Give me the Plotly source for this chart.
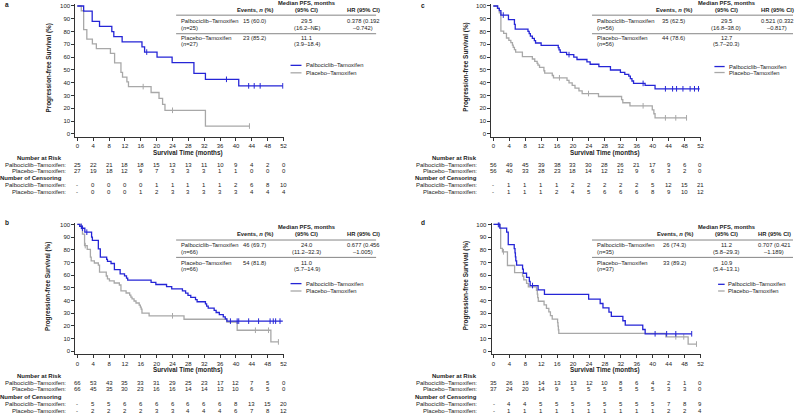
import plotly.graph_objects as go

W, H = 799, 414
BLUE = "#2525d6"
GREY = "#a8a8a8"
INK = "#222222"
FONT = "Liberation Sans, Arial, Helvetica, sans-serif"

months = list(range(0, 53, 4))
arm_names = ["Palbociclib–Tamoxifen", "Placebo–Tamoxifen"]

# ---------- panel a ----------
a_pal_time = [1.6, 3.75, 5.6, 8.7, 9.2, 11.3, 16.3, 16.96, 20.1, 23.9, 29.4, 32.3, 40.7]
a_pal_surv = [96, 88, 84, 80, 76, 72, 68, 64, 60, 55.8, 47.4, 42.7, 37.6]
a_pal_cens = [17.5, 37.6, 43.2, 44.6, 46.1, 51.8]
a_pal_end = 51.8
a_pla_time = [1.0, 1.6, 2.4, 3.8, 4.8, 8.35, 9.4, 11.0, 11.4, 12.5, 12.9, 18.6, 20.6, 21.5, 22.1, 32.3]
a_pla_surv = [96.3, 81.5, 74.1, 70.4, 66.7, 63.0, 55.6, 48.1, 44.4, 40.7, 37.0, 32.4, 27.8, 23.1, 18.5, 6.2]
a_pla_cens = [16.6, 24.0, 43.4]
a_pla_end = 43.4
a_pal_risk = [25, 22, 21, 18, 18, 15, 13, 13, 11, 10, 9, 4, 2, 0]
a_pla_risk = [27, 19, 18, 12, 9, 7, 3, 3, 3, 1, 1, 0, 0, 0]
a_pal_ncens = ["-", 0, 0, 0, 0, 1, 1, 1, 1, 1, 2, 6, 8, 10]
a_pla_ncens = ["-", 0, 0, 0, 1, 2, 3, 3, 3, 3, 3, 4, 4, 4]
a_n = [25, 27]
a_events = ["15 (60.0)", "23 (85.2)"]
a_median = [["29.5", "(16.2–NE)"], ["11.1", "(3.9–18.4)"]]
a_hr = ["0.378 (0.192", "–0.742)"]

# ---------- panel b ----------
b_pal_time = [0.6, 1.1, 1.9, 3.6, 3.8, 5.3, 5.8, 7.4, 7.6, 8.5, 9.35, 10.8, 11.9, 12.4, 12.7, 18.6, 19.8,
              22.5, 23.8, 26.5, 27.3, 27.9, 28.6, 29.8, 30.2, 32.3, 32.6, 33.0, 34.5, 35.0, 35.8, 36.8, 37.3, 37.7]
b_pal_surv = [98.5, 97.0, 93.9, 90.0, 87.4, 80.8, 74.2, 72.5, 70.9, 69.2, 64.3, 61.0, 59.4, 57.7, 56.0, 54.3, 52.6,
              50.9, 49.2, 47.5, 45.8, 44.1, 42.4, 40.7, 39.0, 37.3, 35.6, 33.9, 32.2, 30.5, 28.8, 27.1, 25.4, 23.7]
b_pal_cens = [1.0, 1.3, 2.4, 38.6, 40.3, 40.7, 43.2, 45.7, 48.6, 49.4, 50.0, 51.1]
b_pal_end = 51.8
b_pla_time = [0.8, 1.3, 1.83, 2.5, 3.3, 3.5, 4.3, 5.3, 5.6, 7.3, 7.6, 8.1, 9.3, 10.6, 11.0, 12.3, 13.2, 13.5,
              13.8, 14.3, 14.8, 15.6, 15.9, 16.1, 16.3, 18.1, 26.9, 37.7, 40.3, 48.8]
b_pla_surv = [98.5, 92.4, 83.3, 80.3, 74.2, 71.2, 69.6, 67.9, 62.4, 59.3, 57.0, 55.4, 53.8, 52.2, 47.5, 45.9, 44.3, 42.7,
              41.2, 39.6, 38.0, 36.4, 34.8, 33.2, 30.0, 27.9, 25.2, 23.0, 16.5, 7.3]
b_pla_cens = [2.0, 24.0, 44.9, 48.2, 50.7]
b_pla_end = 50.7
b_pal_risk = [66, 53, 43, 35, 33, 31, 29, 25, 23, 17, 12, 7, 5, 0]
b_pla_risk = [66, 45, 35, 30, 23, 16, 16, 14, 14, 13, 10, 6, 5, 0]
b_pal_ncens = ["-", 5, 5, 6, 6, 6, 6, 6, 6, 6, 8, 13, 15, 20]
b_pla_ncens = ["-", 2, 2, 2, 2, 3, 3, 4, 4, 4, 6, 7, 8, 12]
b_n = [66, 66]
b_events = ["46 (69.7)", "54 (81.8)"]
b_median = [["24.0", "(11.2–32.3)"], ["11.0", "(5.7–14.9)"]]
b_hr = ["0.677 (0.456", "–1.005)"]

# ---------- panel c ----------
c_pal_time = [1.1, 1.5, 1.9, 3.8, 5.3, 5.5, 8.7, 9.0, 9.3, 9.8, 10.3, 10.6, 12.0, 16.3, 16.5, 16.8, 18.4, 20.2,
              21.0, 23.5, 24.3, 26.5, 29.4, 31.9, 33.0, 34.0, 34.4, 34.8, 35.2, 38.1, 40.6]
c_pal_surv = [98.2, 96.4, 92.9, 89.3, 85.6, 82.0, 80.2, 78.4, 76.5, 74.7, 72.9, 71.1, 69.3, 67.5, 65.7, 63.8, 62.0, 60.1,
              58.2, 56.4, 54.5, 52.6, 50.0, 48.1, 46.6, 45.2, 43.3, 41.4, 39.5, 37.9, 35.3]
c_pal_cens = [2.5, 19.0, 37.6, 43.2, 45.0, 46.0, 47.6, 49.4, 50.5, 51.5]
c_pal_end = 51.8
c_pla_time = [1.0, 1.5, 1.9, 2.6, 3.3, 3.9, 4.4, 4.8, 5.0, 5.3, 5.6, 7.3, 9.8, 10.4, 11.0, 11.2, 11.6, 12.7, 12.9,
              14.8, 15.1, 18.5, 19.0, 19.8, 20.5, 21.5, 22.3, 26.4, 32.2, 32.5, 34.3, 39.9, 40.3, 40.6]
c_pla_surv = [98.2, 94.6, 80.4, 78.6, 75.0, 73.2, 71.4, 69.5, 67.7, 65.9, 64.0, 60.4, 58.6, 56.7, 55.2, 53.8, 52.0, 49.4, 47.5,
              45.7, 43.9, 41.9, 39.9, 37.9, 35.8, 33.7, 31.6, 29.3, 26.9, 24.4, 22.0, 18.9, 15.8, 12.6]
c_pla_cens = [16.6, 23.9, 37.6, 43.2, 45.8, 48.5]
c_pla_end = 48.5
c_pal_risk = [56, 49, 45, 39, 38, 33, 30, 28, 26, 21, 17, 9, 6, 0]
c_pla_risk = [56, 40, 33, 28, 23, 18, 14, 12, 12, 9, 6, 3, 2, 0]
c_pal_ncens = ["-", 1, 1, 1, 1, 2, 2, 2, 2, 2, 5, 12, 15, 21]
c_pla_ncens = ["-", 1, 1, 1, 2, 4, 5, 6, 6, 6, 8, 9, 10, 12]
c_n = [56, 56]
c_events = ["35 (62.5)", "44 (78.6)"]
c_median = [["29.5", "(16.8–38.0)"], ["12.7", "(5.7–20.3)"]]
c_hr = ["0.521 (0.332", "–0.817)"]

# ---------- panel d ----------
d_pal_time = [1.6, 3.3, 3.7, 5.2, 5.4, 5.5, 5.6, 5.8, 7.3, 7.5, 8.3, 9.0, 9.2, 11.2, 12.8, 23.9, 26.8, 27.5, 29.0,
              29.6, 32.5, 33.1, 37.5, 38.1]
d_pal_surv = [97.1, 93.9, 84.1, 80.9, 77.6, 74.4, 71.2, 67.9, 64.7, 61.5, 58.3, 55.0, 51.8, 48.3, 44.8, 41.0, 37.6, 34.2, 30.8,
              27.4, 24.0, 20.5, 17.1, 13.7]
d_pal_cens = [1.2, 1.4, 9.8, 40.6, 43.5, 45.8, 49.8]
d_pal_end = 49.8
d_pla_time = [1.6, 1.8, 2.25, 3.5, 5.3, 7.3, 7.6, 8.3, 8.75, 10.8, 11.0, 11.1, 11.25, 12.7, 13.3, 13.9, 14.3, 14.75,
              16.1, 16.2, 16.3, 16.4, 43.3, 48.9]
d_pla_surv = [97.3, 81.1, 78.4, 67.6, 62.0, 59.2, 56.3, 53.5, 50.7, 47.9, 45.0, 42.2, 39.4, 36.6, 33.8, 31.0, 28.1, 25.3,
              22.5, 19.7, 16.9, 14.1, 11.3, 5.6]
d_pla_cens = [2.5, 45.8, 47.8, 51.0]
d_pla_end = 51.0
d_pal_risk = [35, 26, 19, 14, 13, 13, 12, 10, 8, 6, 4, 2, 1, 0]
d_pla_risk = [37, 24, 20, 14, 9, 5, 5, 5, 5, 5, 5, 3, 3, 0]
d_pal_ncens = ["-", 4, 4, 5, 5, 5, 5, 5, 5, 5, 5, 7, 8, 9]
d_pla_ncens = ["-", 1, 1, 1, 1, 1, 1, 1, 1, 1, 1, 2, 2, 4]
d_n = [35, 37]
d_events = ["26 (74.3)", "33 (89.2)"]
d_median = [["11.2", "(5.8–29.3)"], ["10.9", "(5.4–13.1)"]]
d_hr = ["0.707 (0.421", "–1.189)"]


def X(p):
    return p / W


def Y(p):
    return 1 - p / H


def steps(times, surv, end):
    return [0] + list(times) + [end], [100] + list(surv) + [surv[-1]]


def surv_at(times, surv, t):
    s = 100
    for ti, si in zip(times, surv):
        if ti <= t:
            s = si
    return s


top_rows = [157.3, 164.3, 170.7, 177.7, 184.3, 191.0]
bot_rows = [375.7, 382.5, 389.3, 397.3, 404.3, 411.0]
top_ins = [2.5, 9.3, 14.2, 20.3, 26.7, 32.8, 37.3, 43.6]
bot_ins = [226.7, 234.0, 239.6, 245.0, 251.7, 257.0, 262.3, 269.0]

panels = [
    dict(letter="a", sfx="", x0=77.7, x52=285.0, y100=5.0, y0=133.3, lt=(3, 4), yt=(49, 67), xt=(189, 152),
         lab_r=68.3, head_r=64, rows=top_rows, ins=top_ins, tx=[177, 378, 180, 256, 308.5, 365],
         leg=[292, 303, 306, 64.5, 72.0],
         pal=(a_pal_time, a_pal_surv, a_pal_cens, a_pal_end), pla=(a_pla_time, a_pla_surv, a_pla_cens, a_pla_end),
         risk=(a_pal_risk, a_pla_risk, a_pal_ncens, a_pla_ncens), n=a_n, ev=a_events, med=a_median, hr=a_hr),
    dict(letter="c", sfx="2", x0=495.8, x52=704.0, y100=5.0, y0=133.3, lt=(421, 5), yt=(468.3, 66), xt=(608, 152),
         lab_r=481.7, head_r=481.7, rows=top_rows, ins=top_ins, tx=[595, 797, 598, 677, 730, 781],
         leg=[718, 728.3, 730.5, 65.7, 71.7],
         pal=(c_pal_time, c_pal_surv, c_pal_cens, c_pal_end), pla=(c_pla_time, c_pla_surv, c_pla_cens, c_pla_end),
         risk=(c_pal_risk, c_pla_risk, c_pal_ncens, c_pla_ncens), n=c_n, ev=c_events, med=c_median, hr=c_hr),
    dict(letter="b", sfx="3", x0=77.7, x52=285.0, y100=224.0, y0=351.0, lt=(3, 222), yt=(49, 286), xt=(189, 369.7),
         lab_r=68.3, head_r=64, rows=bot_rows, ins=bot_ins, tx=[177, 378, 180, 256, 308.5, 365],
         leg=[292, 303, 306, 283.3, 290.7],
         pal=(b_pal_time, b_pal_surv, b_pal_cens, b_pal_end), pla=(b_pla_time, b_pla_surv, b_pla_cens, b_pla_end),
         risk=(b_pal_risk, b_pla_risk, b_pal_ncens, b_pla_ncens), n=b_n, ev=b_events, med=b_median, hr=b_hr),
    dict(letter="d", sfx="4", x0=496.0, x52=704.0, y100=224.0, y0=351.0, lt=(421, 222), yt=(468.3, 285), xt=(608, 369.7),
         lab_r=481.7, head_r=481.7, rows=bot_rows, ins=bot_ins, tx=[595, 797, 598, 678, 730, 778],
         leg=[721.7, 728.3, 730, 284.0, 290.7],
         pal=(d_pal_time, d_pal_surv, d_pal_cens, d_pal_end), pla=(d_pla_time, d_pla_surv, d_pla_cens, d_pla_end),
         risk=(d_pal_risk, d_pla_risk, d_pal_ncens, d_pla_ncens), n=d_n, ev=d_events, med=d_median, hr=d_hr),
]

XR = [-0.5, 52.05]
YR = [-2.5, 101.5]

fig = go.Figure()
annotations = []
shapes = []


def txt(x, y, s, size=5.8, anchor="center", bold=False, xref="paper", angle=0):
    if bold:
        s = "<b>" + s + "</b>"
    annotations.append(dict(x=x, y=y, xref=xref, yref="paper", text=s, showarrow=False,
                            xanchor=anchor, yanchor="middle", textangle=angle,
                            font=dict(size=size, color=INK, family=FONT)))


for p in panels:
    sfx = p["sfx"]
    xs = (p["x52"] - p["x0"]) / 52
    ys = (p["y0"] - p["y100"]) / 100
    xdom = [X(p["x0"] + XR[0] * xs), X(p["x0"] + XR[1] * xs)]
    ydom = [Y(p["y0"] - YR[0] * ys), Y(p["y0"] - YR[1] * ys)]

    for arm, col in ((p["pla"], GREY), (p["pal"], BLUE)):
        t, s, cens, end = arm
        lx, ly = steps(t, s, end)
        fig.add_trace(go.Scatter(x=lx, y=ly, mode="lines", line=dict(color=col, width=1.3, shape="hv"),
                                 xaxis="x" + sfx, yaxis="y" + sfx, hoverinfo="skip"))
        fig.add_trace(go.Scatter(x=cens, y=[surv_at(t, s, c) for c in cens], mode="markers",
                                 marker=dict(symbol="line-ns-open", size=4, color=col,
                                             line=dict(color=col, width=1)),
                                 xaxis="x" + sfx, yaxis="y" + sfx, hoverinfo="skip"))

    axis_common = dict(showline=True, linecolor="#333333", linewidth=1, ticks="outside", ticklen=3,
                       tickwidth=1, tickcolor="#333333", showgrid=False, zeroline=False,
                       tickfont=dict(size=6, color=INK, family=FONT))
    fig.update_layout(**{
        "xaxis" + sfx: dict(domain=xdom, range=XR, anchor="y" + sfx, tickvals=months, **axis_common),
        "yaxis" + sfx: dict(domain=ydom, range=YR, anchor="x" + sfx, tickvals=list(range(0, 101, 10)), **axis_common),
    })

    # labels
    txt(X(p["lt"][0]), Y(p["lt"][1]), p["letter"], size=6.5, anchor="left", bold=True)
    txt(X(p["yt"][0]), Y(p["yt"][1]), "Progression-free Survival (%)", size=6.4, bold=True, angle=-90)
    txt(X(p["xt"][0]), Y(p["xt"][1]), "Survival Time (months)", size=6.3, bold=True)

    # numbers at risk / censoring
    r = p["rows"]
    pal_risk, pla_risk, pal_nc, pla_nc = p["risk"]
    txt(X(p["head_r"]), Y(r[0]), "Number at Risk", size=6, anchor="right", bold=True)
    txt(X(p["head_r"]), Y(r[3]), "Number of Censoring", size=6, anchor="right", bold=True)
    for ri, vals, name in ((1, pal_risk, arm_names[0]), (2, pla_risk, arm_names[1]),
                           (4, pal_nc, arm_names[0]), (5, pla_nc, arm_names[1])):
        txt(X(p["lab_r"]), Y(r[ri]), name + ":", size=6, anchor="right")
        for m, v in zip(months, vals):
            txt(m, Y(r[ri]), str(v), size=6, xref="x" + sfx)

    # inset table
    ins = p["ins"]
    lx0, lx1, cname, cev, cmed, chr_ = p["tx"]
    txt(X(cmed), Y(ins[0]), "Median PFS, months", bold=True)
    txt(X(cev), Y(ins[1]), "Events, <i>n</i> (%)", bold=True)
    txt(X(cmed), Y(ins[1]), "(95% CI)", bold=True)
    txt(X(chr_), Y(ins[1]), "HR (95% CI)", bold=True)
    for ly in (ins[2], ins[5]):
        shapes.append(dict(type="line", xref="paper", yref="paper", x0=X(lx0), x1=X(lx1), y0=Y(ly), y1=Y(ly),
                           line=dict(color="#666666", width=0.8)))
    for k, (ya, yb) in enumerate(((ins[3], ins[4]), (ins[6], ins[7]))):
        txt(X(cname), Y(ya), arm_names[k], anchor="left")
        txt(X(cname), Y(yb), "(<i>n</i>=%d)" % p["n"][k], anchor="left")
        txt(X(cev), Y(ya), p["ev"][k])
        txt(X(cmed), Y(ya), p["med"][k][0])
        txt(X(cmed), Y(yb), p["med"][k][1])
    txt(X(chr_), Y(ins[3]), p["hr"][0])
    txt(X(chr_), Y(ins[4]), p["hr"][1])

    # legend
    g0, g1, gt, gy1, gy2 = p["leg"]
    for gy, col, name in ((gy1, BLUE, arm_names[0]), (gy2, GREY, arm_names[1])):
        shapes.append(dict(type="line", xref="paper", yref="paper", x0=X(g0), x1=X(g1), y0=Y(gy), y1=Y(gy),
                           line=dict(color=col, width=1.3)))
        txt(X(gt), Y(gy), name, anchor="left")

fig.update_layout(width=W, height=H, margin=dict(l=0, r=0, t=0, b=0), showlegend=False,
                  paper_bgcolor="white", plot_bgcolor="white", annotations=annotations, shapes=shapes,
                  font=dict(family=FONT, color=INK))

# page has a default 8px body margin; drop it so the figure fills the window
fig.write_html("out.html", config={"displayModeBar": False},
               post_script="document.body.style.margin='0';document.body.style.overflow='hidden';")
